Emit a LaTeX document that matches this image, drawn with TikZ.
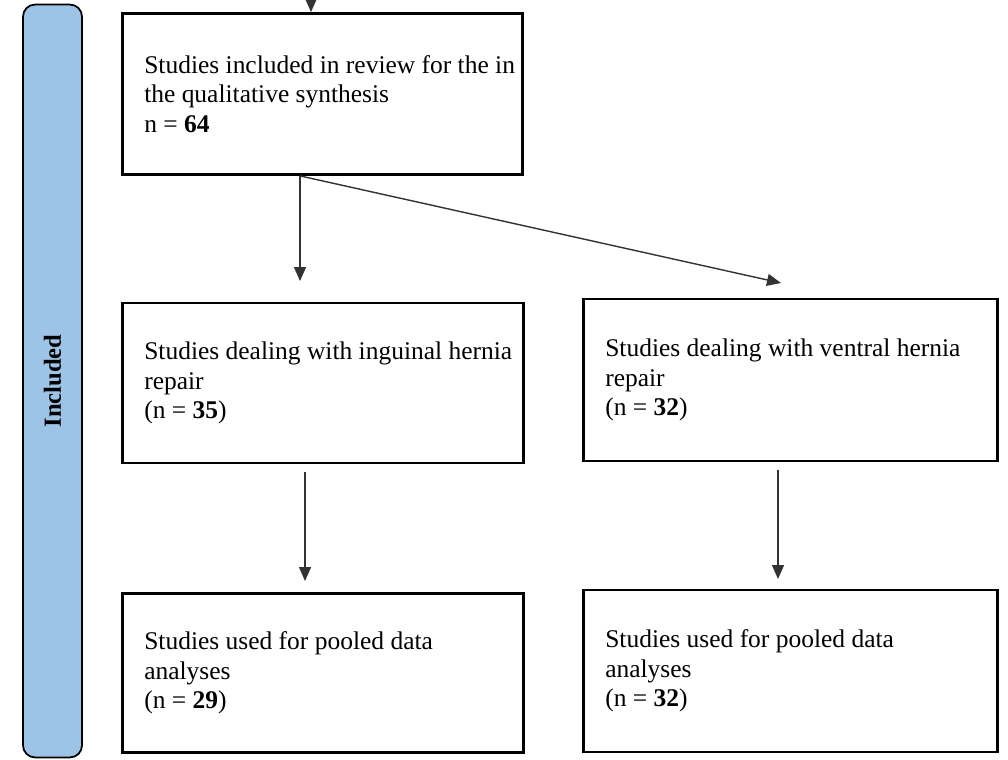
\documentclass[tikz,border=0pt]{standalone}
\usepackage{fontspec}
\setmainfont{Liberation Serif}
\usetikzlibrary{arrows.meta}
\definecolor{sidebar}{RGB}{157,195,230}
\begin{document}
\begin{tikzpicture}[x=0.02cm,y=-0.02cm,
    box/.style={draw, line width=1.6pt, inner xsep=0pt, align=left,
        font=\fontsize{14.5}{16.8}\selectfont,
        execute at begin node={\leftskip=0.44cm\rightskip=-0.3cm plus 1fil\spaceskip=0.25em\xspaceskip=0.25em}},
    arr/.style={line width=0.8pt, black!80, -{Triangle[length=0.28cm,width=0.24cm]}}]
    \useasboundingbox (0,0) rectangle (1008,760);
    % side bar
    \node[draw, line width=1pt, fill=sidebar, rounded corners=0.24cm,
        minimum width=1.18cm, minimum height=15.06cm] (incl) at (52.5,381) {};
    \node[rotate=90, font=\fontsize{14}{16}\selectfont\bfseries] (incltext) at (incl.center) {Included};
    % boxes
    \node[box, text width=8.01cm, minimum height=3.22cm] (top) at (322.5,94)
        {Studies included in review for the in\\the qualitative synthesis\\n = \textbf{64}};
    \node[box, text width=8.03cm, minimum height=3.2cm] (ingu) at (323,383)
        {Studies dealing with inguinal hernia\\repair\\(n = \textbf{35})};
    \node[box, text width=8.29cm, minimum height=3.24cm] (ventral) at (790.5,380)
        {Studies dealing with ventral hernia\\repair\\(n = \textbf{32})};
    \node[box, text width=8.03cm, minimum height=3.18cm] (poolL) at (323,673)
        {Studies used for pooled data\\analyses\\(n = \textbf{29})};
    \node[box, text width=8.29cm, minimum height=3.24cm] (poolR) at (790.5,671)
        {Studies used for pooled data\\analyses\\(n = \textbf{32})};
    % arrow tips
    \coordinate (in) at (311,-20);
    \coordinate (t1) at (300,281);
    \coordinate (t2) at (781,283);
    \coordinate (s3) at (305,472);
    \coordinate (t3) at (305,581);
    \coordinate (s4) at (778,470);
    \coordinate (t4) at (778,579);
    % arrows
    \draw[arr] (in) -- (in |- top.north);
    \draw[arr] (top.south -| t1) -- (t1);
    \draw[arr] (top.south -| t1) -- (t2);
    \draw[arr] (s3) -- (t3);
    \draw[arr] (s4) -- (t4);
\end{tikzpicture}
\end{document}
